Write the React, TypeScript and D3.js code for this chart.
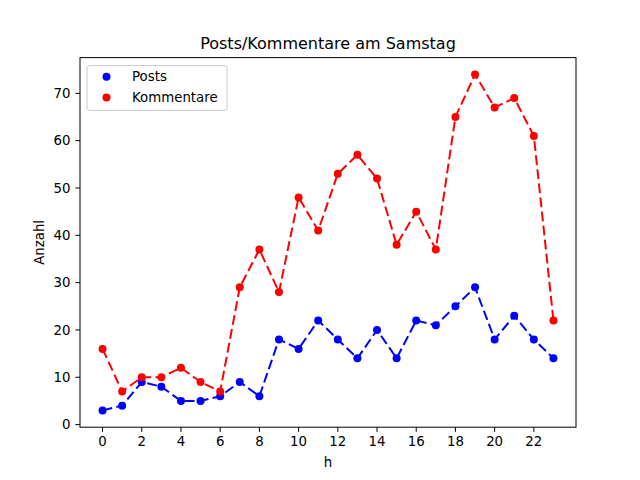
import React from "react";
import * as d3 from "d3";

const hours = d3.range(0, 24);
const posts = [3, 4, 9, 8, 5, 5, 6, 9, 6, 18, 16, 22, 18, 14, 20, 14, 22, 21, 25, 29, 18, 23, 18, 14];
const kommentare = [16, 7, 10, 10, 12, 9, 7, 29, 37, 28, 48, 41, 53, 57, 52, 38, 45, 37, 65, 74, 67, 69, 61, 22];
const xTicks = [0, 2, 4, 6, 8, 10, 12, 14, 16, 18, 20, 22];
const yTicks = [0, 10, 20, 30, 40, 50, 60, 70];
const seriesNames = ["Posts", "Kommentare"];
const seriesColors = ["#0000ff", "#ff0000"];

export default function App() {
  const W = 640, H = 480;
  const left = 80, right = 576, top = 57.6, bottom = 427.2;
  const all = [...posts, ...kommentare];
  const ymin = d3.min(all)!, ymax = d3.max(all)!;
  const ym = (ymax - ymin) * 0.05;
  const xm = 23 * 0.05;
  const x = d3.scaleLinear().domain([-xm, 23 + xm]).range([left, right]);
  const y = d3.scaleLinear().domain([ymin - ym, ymax + ym]).range([bottom, top]);
  const line = d3.line<number>().x((_, i) => x(hours[i])).y((d) => y(d));
  const font = "DejaVu Sans, sans-serif";
  const series = [posts, kommentare];
  return (
    <div style={{ margin: -8 }}>
      <svg width={W} height={H} style={{ display: "block", background: "#fff" }} fontFamily={font}>
        <rect x={0} y={0} width={W} height={H} fill="#fff" />
        {series.map((s, k) => (
          <g key={"s" + k}>
            {s.map((v, i) => (
              <circle key={i} cx={x(hours[i])} cy={y(v)} r={4} fill={seriesColors[k]} />
            ))}
            <path d={line(s)!} fill="none" stroke={seriesColors[k]} strokeWidth={2} strokeDasharray="9.87,4.27" />
          </g>
        ))}
        <rect x={left} y={top} width={right - left} height={bottom - top} fill="none" stroke="#000" strokeWidth={1} />
        {xTicks.map((t) => (
          <g key={"x" + t}>
            <line x1={x(t)} x2={x(t)} y1={bottom} y2={bottom + 4.67} stroke="#000" strokeWidth={1} />
            <text x={x(t)} y={bottom + 19} textAnchor="middle" fontSize={13.33}>{t}</text>
          </g>
        ))}
        {yTicks.map((t) => (
          <g key={"y" + t}>
            <line x1={left} x2={left - 4.67} y1={y(t)} y2={y(t)} stroke="#000" strokeWidth={1} />
            <text x={left - 9.5} y={y(t)} dy="0.35em" textAnchor="end" fontSize={13.33}>{t}</text>
          </g>
        ))}
        <text x={(left + right) / 2} y={467} textAnchor="middle" fontSize={13.33}>h</text>
        <text transform={`translate(44,${(top + bottom) / 2}) rotate(-90)`} textAnchor="middle" fontSize={13.33}>Anzahl</text>
        <text x={(left + right) / 2} y={49} textAnchor="middle" fontSize={16}>Posts/Kommentare am Samstag</text>
        <g>
          <rect x={87} y={65.5} width={140} height={45} rx={3} fill="#fff" fillOpacity={0.8} stroke="#cccccc" strokeWidth={1} />
          {seriesNames.map((n, k) => (
            <g key={n}>
              <circle cx={106.5} cy={76.7 + k * 20.7} r={4} fill={seriesColors[k]} />
              <text x={132} y={76.7 + k * 20.7} dy="0.35em" fontSize={13.33}>{n}</text>
            </g>
          ))}
        </g>
      </svg>
    </div>
  );
}
